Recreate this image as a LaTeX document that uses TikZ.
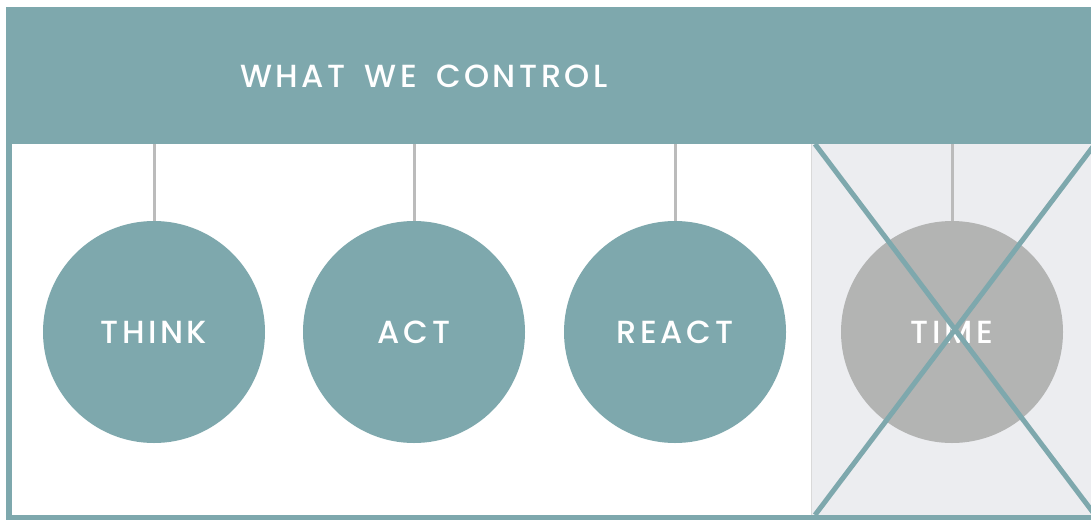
\documentclass[tikz,border=0pt]{standalone}
\usepackage{fontspec}
\newfontfamily\lblfont[LetterSpace=11,WordSpace=1.6]{Poppins Medium}
\definecolor{teal}{HTML}{7EA8AD}
\definecolor{circgray}{HTML}{B3B4B3}
\definecolor{bggray}{HTML}{ECEDF0}
\definecolor{linegray}{HTML}{BBBBBB}
\tikzset{
  lbl/.style={text=white, font=\lblfont\fontsize{32}{32}\selectfont},
  circ/.style={lbl, circle, fill=teal, minimum size=222pt, inner sep=0pt},
  conn/.style={draw=linegray, line width=3pt},
  xline/.style={draw=teal, line width=5pt},
}
\begin{document}
\begin{tikzpicture}[x=1pt,y=-1pt]
\useasboundingbox (0,0) rectangle (1091,520);
% frame
\fill[teal] (6,7) rectangle (1091,520);
\fill[white] (12,144) rectangle (811,515);
\fill[bggray] (811,144) rectangle (1091,515);
\draw[line width=1pt, draw=black!15] (811.5,144) -- (811.5,515);
% header text
\node[lbl, anchor=center] (hdr) at (424,76) {WHAT WE CONTROL};
% circles
\node[circ] (think) at (154,332) {THINK};
\node[circ] (act) at (414,332) {ACT};
\node[circ] (react) at (675,332) {REACT};
\node[circ, fill=circgray] (time) at (952,332) {TIME};
% connectors
\coordinate (t1) at (154,144);
\coordinate (t2) at (414,144);
\coordinate (t3) at (675,144);
\coordinate (t4) at (952,144);
\draw[conn] (t1) -- (think.north);
\draw[conn] (t2) -- (act.north);
\draw[conn] (t3) -- (react.north);
\draw[conn] (t4) -- (time.north);
% cross
\begin{scope}
\clip (811,144) rectangle (1091,515);
\coordinate (xa) at (815,144);
\coordinate (xb) at (1095,515);
\coordinate (xc) at (815,515);
\coordinate (xd) at (1095,144);
\draw[xline] (xa) -- (xb);
\draw[xline] (xc) -- (xd);
\end{scope}
\end{tikzpicture}
\end{document}
